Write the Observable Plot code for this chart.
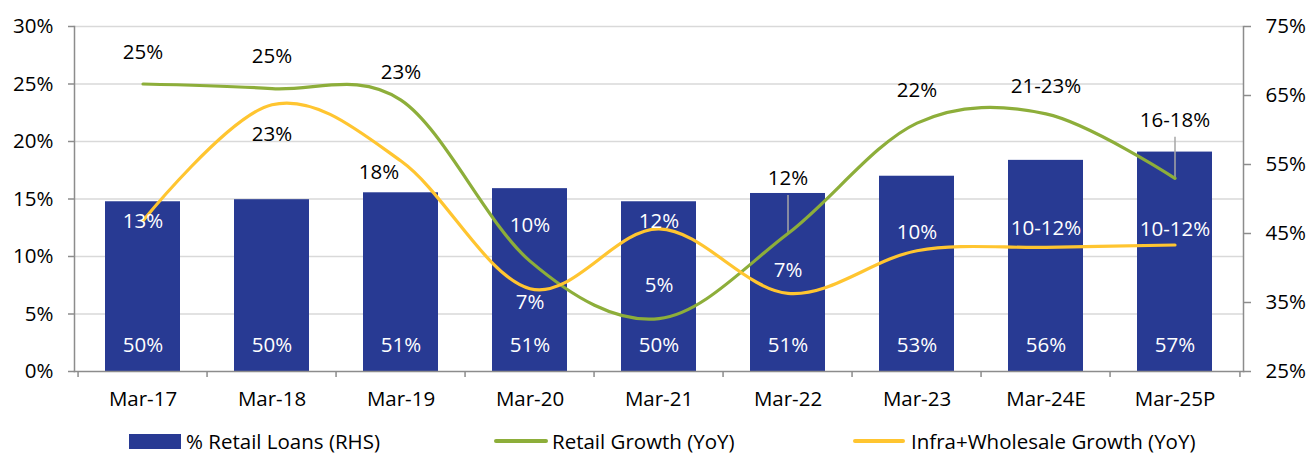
<!DOCTYPE html>
<html>
<head>
<meta charset="utf-8">
<script src="https://cdn.jsdelivr.net/npm/d3@7"></script>
<script src="https://cdn.jsdelivr.net/npm/@observablehq/plot@0.6"></script>
<style>
  html, body { margin: 0; padding: 0; background: #fff; }
  #wrap { position: relative; width: 1309px; height: 455px; font-family: "Open Sans", Lato, sans-serif; }
  #chart svg { display: block; }
  .lg { position: absolute; }
  .lgt { position: absolute; top: 427px; height: 28px; line-height: 28px; font-size: 20.5px; color: #000; white-space: nowrap; }
</style>
</head>
<body>
<div id="wrap">
  <div id="chart"></div>
  <div id="legend"></div>
</div>
<script>
// ---- data ----
const categories = ["Mar-17","Mar-18","Mar-19","Mar-20","Mar-21","Mar-22","Mar-23","Mar-24E","Mar-25P"];
const retailShare = [49.6, 49.9, 50.9, 51.5, 49.6, 50.8, 53.3, 55.6, 56.8];          // RHS, %
const retailShareLabels = ["50%","50%","51%","51%","50%","51%","53%","56%","57%"];
const retailGrowth = [25.0, 24.6, 23.6, 9.6, 4.6, 12.0, 21.6, 22.4, 16.8];           // LHS, %
const retailGrowthLabels = ["25%","25%","23%","10%","5%","12%","22%","21-23%","16-18%"];
const infraGrowth = [13.1, 23.2, 18.3, 7.2, 12.4, 6.8, 10.5, 10.8, 11.0];            // LHS, %
const infraGrowthLabels = ["13%","23%","18%","7%","12%","7%","10%","10-12%","10-12%"];
const leftTicks = [0, 5, 10, 15, 20, 25, 30];
const rightTicks = [25, 35, 45, 55, 65, 75];
const seriesNames = ["% Retail Loans (RHS)", "Retail Growth (YoY)", "Infra+Wholesale Growth (YoY)"];

// ---- layout / style ----
const W = 1309, H = 426, ML = 74, MR = 66, MT = 26, MB = H - 371;
const C_BAR = "#283A93", C_GREEN = "#8DAE3A", C_YELLOW = "#FFC530", C_AXIS = "#8C8C8C", C_GRID = "#D9D9D9";
const FONT = 20.5;
const greenDy = [-32, -32, -28, -36, -33, -55, -33, -27, -58];
const yellowDy = [1, 30, 11, 14, -7, -23, -18, -19, -16];
const yellowDx = [0, 0, -22, 0, 0, 0, 0, 0, 0];
const leaders = [{i: 5, len: 38}, {i: 8, len: 41}];

// RHS (25..75) mapped onto LHS (0..30)
const toLeft = v => (v - 25) * 30 / 50;
const ys = Plot.scale({y: {domain: [0, 30], range: [H - MB, MT]}});
const step = (W - ML - MR) / categories.length;

const rows = categories.map((c, i) => ({
  cat: c, share: retailShare[i], shareLabel: retailShareLabels[i],
  rg: retailGrowth[i], rgLabel: retailGrowthLabels[i],
  ig: infraGrowth[i], igLabel: infraGrowthLabels[i]
}));

function labelFill(i, value, dyPx) {
  const py = ys.apply(value) + dyPx;
  const barTop = ys.apply(toLeft(retailShare[i]));
  return py > barTop + 4 ? "white" : "black";
}

const labelMarks = [];
rows.forEach((r, i) => {
  labelMarks.push(Plot.text([r], {x: "cat", y: "rg", text: "rgLabel", dy: greenDy[i],
    fill: labelFill(i, r.rg, greenDy[i]), fontSize: FONT}));
  labelMarks.push(Plot.text([r], {x: "cat", y: "ig", text: "igLabel", dy: yellowDy[i], dx: yellowDx[i],
    fill: labelFill(i, r.ig, yellowDy[i]), fontSize: FONT}));
});

const leaderRows = leaders.map(l => ({...rows[l.i], len: l.len}));

const chart = Plot.plot({
  width: W, height: H,
  marginLeft: ML, marginRight: MR, marginTop: MT, marginBottom: MB,
  style: {fontFamily: "'Open Sans', Lato, sans-serif", fontSize: FONT + "px", color: "#000", background: "#fff"},
  x: {domain: categories, paddingInner: 0.415, paddingOuter: 0.2075},
  y: {domain: [0, 30]},
  marks: [
    Plot.ruleY(leftTicks.filter(d => d > 0), {stroke: C_GRID, strokeWidth: 1.3}),
    Plot.barY(rows, {x: "cat", y1: 0, y2: d => toLeft(d.share), fill: C_BAR}),
    Plot.text(rows, {x: "cat", y: 0, dy: -26, text: "shareLabel", fill: "white", fontSize: FONT}),
    Plot.ruleX(leaderRows, {
      x: "cat", y1: "rg",
      y2: d => ys.invert(ys.apply(d.rg) - d.len),
      stroke: "#A6A6A6", strokeWidth: 1.5
    }),
    Plot.line(rows, {x: "cat", y: "rg", stroke: C_GREEN, strokeWidth: 3.2, curve: "cardinal", tension: 0}),
    Plot.line(rows, {x: "cat", y: "ig", stroke: C_YELLOW, strokeWidth: 3.2, curve: "cardinal", tension: 0}),
    ...labelMarks,
    // axis lines
    Plot.frame({anchor: "left", stroke: C_AXIS, strokeWidth: 1.5}),
    Plot.frame({anchor: "right", stroke: C_AXIS, strokeWidth: 1.5}),
    Plot.frame({anchor: "bottom", stroke: C_AXIS, strokeWidth: 1.5}),
    // category boundary ticks
    Plot.ruleX(categories, {x: d => d, y1: 0, y2: ys.invert(H - MB + 6), dx: -step / 2, stroke: C_AXIS, strokeWidth: 1.5}),
    Plot.ruleX([categories[categories.length - 1]], {x: d => d, y1: 0, y2: ys.invert(H - MB + 6), dx: step / 2, stroke: C_AXIS, strokeWidth: 1.5}),
    Plot.axisX({tickSize: 0, tickPadding: 20, fontSize: FONT, label: null}),
    Plot.axisY({ticks: leftTicks, tickFormat: d => d + "%", tickSize: 6, tickPadding: 15, stroke: C_AXIS, strokeWidth: 1.5, fontSize: FONT, label: null}),
    Plot.axisY({anchor: "right", ticks: rightTicks.map(toLeft), tickFormat: d => Math.round(d * 50 / 30 + 25) + "%",
      tickSize: 7, tickPadding: 15, stroke: C_AXIS, strokeWidth: 1.5, fontSize: FONT, label: null})
  ]
});
document.getElementById("chart").appendChild(chart);

// ---- legend ----
const lg = document.getElementById("legend");
const items = [
  {sw: `<div class="lg" style="left:129px;top:434px;width:52px;height:15px;background:${C_BAR}"></div>`, tx: 186},
  {sw: `<div class="lg" style="left:494px;top:439px;width:54px;height:4px;background:${C_GREEN};border-radius:2px"></div>`, tx: 552},
  {sw: `<div class="lg" style="left:853px;top:439px;width:52px;height:4px;background:${C_YELLOW};border-radius:2px"></div>`, tx: 911}
];
items.forEach((it, i) => {
  lg.insertAdjacentHTML("beforeend", it.sw + `<div class="lgt" style="left:${it.tx}px">${seriesNames[i]}</div>`);
});
</script>
</body>
</html>
